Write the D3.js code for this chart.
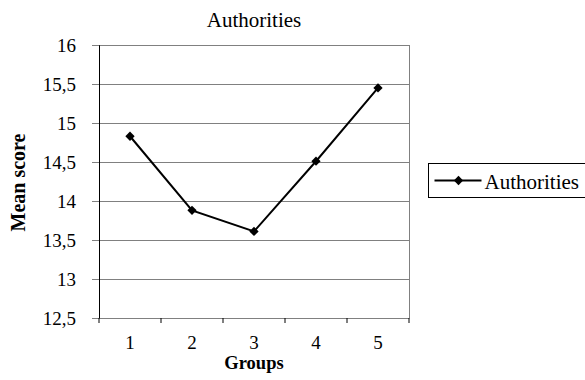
<!DOCTYPE html>
<html>
<head>
<meta charset="utf-8">
<script src="https://cdn.jsdelivr.net/npm/d3@7"></script>
<style>
  body { margin: 0; background: #fff; }
  svg { display: block; }
  svg text { font-family: "Liberation Serif", "Times New Roman", serif; fill: #000; }
</style>
</head>
<body>
<div id="chart"></div>
<script>
  const GROUPS = ["1", "2", "3", "4", "5"];
  const SCORES = [14.83, 13.88, 13.61, 14.51, 15.45];
  const Y_TICKS = [12.5, 13, 13.5, 14, 14.5, 15, 15.5, 16];

  const W = 585, H = 380;
  const M = { top: 45, left: 99, right: 176, bottom: 62 };
  const iW = W - M.left - M.right;
  const iH = H - M.top - M.bottom;

  const svg = d3.select("#chart").append("svg").attr("width", W).attr("height", H);
  const g = svg.append("g").attr("transform", `translate(${M.left},${M.top})`);

  const x = d3.scaleBand().domain(GROUPS).range([0, iW]);
  const y = d3.scaleLinear().domain([12.5, 16]).range([iH, 0]);
  const fmt = d => String(d).replace(".", ",");

  // gridlines
  g.selectAll(".grid").data(Y_TICKS).join("line")
    .attr("x1", 0).attr("x2", iW)
    .attr("y1", d => Math.round(y(d)) + 0.5).attr("y2", d => Math.round(y(d)) + 0.5)
    .attr("stroke", "#808080").attr("stroke-width", 1);

  // right border
  g.append("line").attr("x1", iW + 0.5).attr("x2", iW + 0.5).attr("y1", 0).attr("y2", iH)
    .attr("stroke", "#808080");

  // y axis
  const ya = g.append("g").call(d3.axisLeft(y).tickValues(Y_TICKS).tickFormat(fmt).tickSize(7).tickPadding(16));
  ya.select(".domain").attr("stroke", "#000");
  ya.selectAll(".tick line").attr("stroke", "#808080");
  ya.selectAll("text").style("font-size", "19px");

  // x axis
  const xa = g.append("g").attr("transform", `translate(0,${iH})`)
    .call(d3.axisBottom(x).tickSize(0).tickPadding(18));
  xa.select(".domain").attr("stroke", "#808080");
  xa.selectAll("text").style("font-size", "19px");
  const edges = GROUPS.map(d => x(d)).concat([iW]);
  g.selectAll(".xtick").data(edges).join("line")
    .attr("x1", d => d).attr("x2", d => d).attr("y1", iH).attr("y2", iH + 5)
    .attr("stroke", "#000");

  // line + markers
  const pts = GROUPS.map((k, i) => ({ k, v: SCORES[i] }));
  g.append("path").datum(pts)
    .attr("fill", "none").attr("stroke", "#000").attr("stroke-width", 2)
    .attr("d", d3.line().x(d => x(d.k) + x.bandwidth() / 2).y(d => y(d.v)));
  const diamond = d3.symbol().type(d3.symbolDiamond2).size(55);
  g.selectAll(".pt").data(pts).join("path")
    .attr("transform", d => `translate(${x(d.k) + x.bandwidth() / 2},${y(d.v)})`)
    .attr("d", diamond).attr("fill", "#000");

  // titles
  svg.append("text").attr("x", M.left + iW / 2).attr("y", 27).attr("text-anchor", "middle")
    .style("font-size", "21px").text("Authorities");
  svg.append("text").attr("x", M.left + iW / 2).attr("y", 369).attr("text-anchor", "middle")
    .style("font-size", "18.5px").style("font-weight", "bold").text("Groups");
  svg.append("text").attr("transform", `translate(25,${M.top + iH / 2 + 1}) rotate(-90)`)
    .attr("text-anchor", "middle").style("font-size", "20px").style("font-weight", "bold").text("Mean score");

  // legend
  const lg = svg.append("g").attr("transform", "translate(428.5,163.5)");
  lg.append("rect").attr("width", 160).attr("height", 34).attr("fill", "#fff").attr("stroke", "#000");
  lg.append("line").attr("x1", 6).attr("x2", 53).attr("y1", 17).attr("y2", 17).attr("stroke", "#000").attr("stroke-width", 2);
  lg.append("path").attr("transform", "translate(30,17)").attr("d", diamond).attr("fill", "#000");
  lg.append("text").attr("x", 56).attr("y", 25).style("font-size", "21px").text("Authorities");
</script>
</body>
</html>
